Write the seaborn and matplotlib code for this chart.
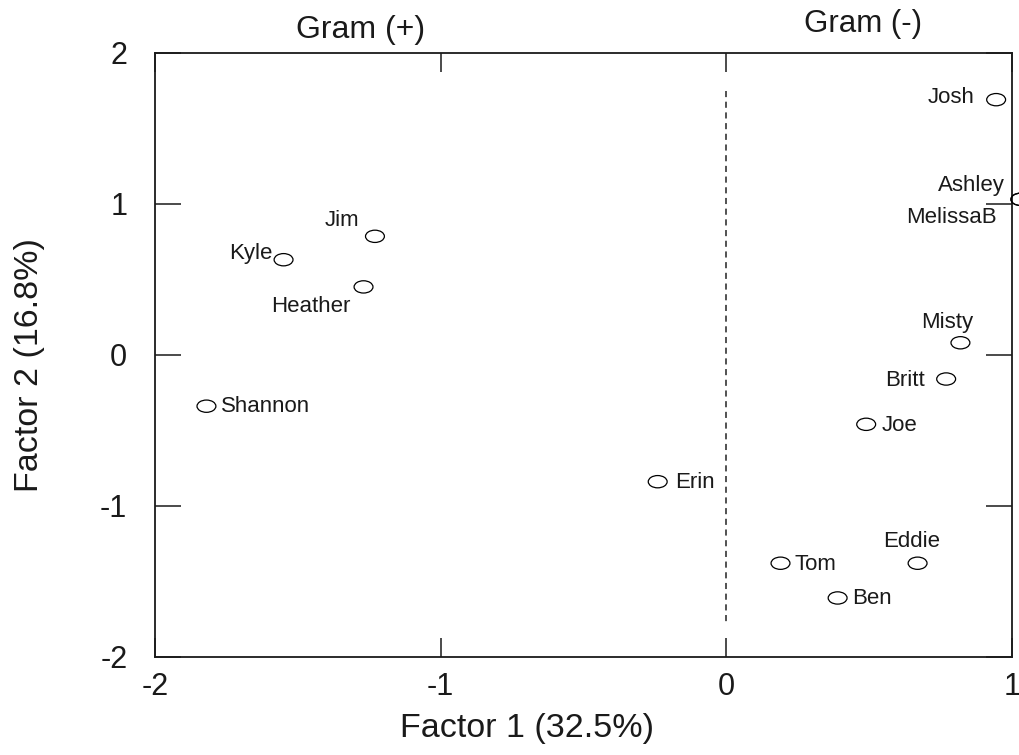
import numpy as np
import pandas as pd
import matplotlib
matplotlib.use("Agg")
import matplotlib.pyplot as plt
from matplotlib.path import Path
from matplotlib.transforms import Affine2D
import seaborn as sns

names = ["Josh", "Ashley", "MelissaB", "Jim", "Kyle", "Heather", "Shannon",
         "Erin", "Misty", "Britt", "Joe", "Eddie", "Tom", "Ben"]
factor1 = [0.945, 1.03, 1.03, -1.23, -1.55, -1.27, -1.82,
           -0.24, 0.82, 0.77, 0.49, 0.67, 0.19, 0.39]
factor2 = [1.69, 1.03, 1.03, 0.785, 0.63, 0.45, -0.34,
           -0.84, 0.08, -0.16, -0.46, -1.38, -1.38, -1.61]
x_ticks = [-2, -1, 0, 1]
y_ticks = [-2, -1, 0, 1, 2]
group_labels = ["Gram (+)", "Gram (-)"]

# label offsets in pixels (dx, dy, ha)
label_offsets = {
    "Josh": (-22, 2, "right"), "Ashley": (-16, 14, "right"),
    "MelissaB": (-24, -18, "right"), "Jim": (-16, 16, "right"),
    "Kyle": (-11, 6, "right"), "Heather": (-13, -20, "right"),
    "Shannon": (15, 0, "left"), "Erin": (17, -1, "left"),
    "Misty": (13, 20, "right"), "Britt": (-21, -1, "right"),
    "Joe": (15, -1, "left"), "Eddie": (23, 22, "right"),
    "Tom": (14, -1, "left"), "Ben": (15, -1, "left"),
}

df = pd.DataFrame({"name": names, "f1": factor1, "f2": factor2})

sns.set_theme(style="white")
plt.rcParams["font.family"] = ["Liberation Sans", "DejaVu Sans"]

fig = plt.figure(figsize=(10.2, 7.55), dpi=100)
ax = fig.add_axes([0.152, 0.130, 0.840, 0.800])

ellipse = Path.unit_circle().transformed(Affine2D().scale(1.0, 0.65))
sns.scatterplot(data=df, x="f1", y="f2", ax=ax, marker=ellipse, s=185,
                facecolors="none", edgecolor="black", linewidth=0.9,
                clip_on=False, zorder=3)

px2pt = 0.72
for _, r in df.iterrows():
    dx, dy, ha = label_offsets[r["name"]]
    ax.annotate(r["name"], (r["f1"], r["f2"]), xytext=(dx * px2pt, dy * px2pt),
                textcoords="offset points", ha=ha, va="center", fontsize=16,
                color="#1a1a1a", annotation_clip=False)

ax.plot([0, 0], [1.75, -1.78], color="#222222", linestyle=(0, (4, 3)), linewidth=1.1)

ax.text(-1.28, 2.15, group_labels[0], ha="center", va="center", fontsize=23, color="#1a1a1a")
ax.text(0.48, 2.19, group_labels[1], ha="center", va="center", fontsize=22.5, color="#1a1a1a")

ax.set_xlim(-2, 1)
ax.set_ylim(-2, 2)
ax.set_xticks(x_ticks)
ax.set_yticks(y_ticks)
ax.set_xticklabels([str(t) for t in x_ticks])
ax.set_yticklabels([str(t) for t in y_ticks])
ax.tick_params(axis="x", direction="in", length=13.5, width=1.1, top=True, bottom=True,
               labelsize=22, pad=11, colors="#1a1a1a")
ax.tick_params(axis="y", direction="in", length=19, width=1.1, left=True, right=True,
               labelsize=22, pad=20, colors="#1a1a1a")
for sp in ax.spines.values():
    sp.set_visible(True)
    sp.set_color("#1a1a1a")
    sp.set_linewidth(1.3)

ax.set_xlabel("Factor 1 (32.5%)", fontsize=24.5, color="#1a1a1a")
ax.set_ylabel("Factor 2 (16.8%)", fontsize=24.5, color="#1a1a1a")
ax.xaxis.set_label_coords(0.434, -0.093)
ax.yaxis.set_label_coords(-0.128, 0.483)

fig.savefig("out.png", dpi=100, facecolor="white")
